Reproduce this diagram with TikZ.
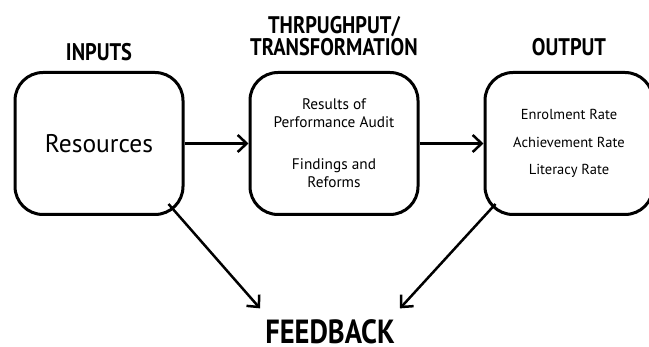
\documentclass[tikz,border=0pt]{standalone}
\usepackage{fontspec}
\setmainfont{PT Sans}
\newfontfamily\headfont{PT Sans}[FakeStretch=0.85]
\usetikzlibrary{positioning,arrows.meta}

\begin{document}
\begin{tikzpicture}[x=1pt, y=-1pt, node distance=64pt,
	box/.style={draw, line width=3pt, rounded corners=28pt, minimum width=168pt, minimum height=142pt, align=center, inner sep=0pt},
	head/.style={font=\headfont\bfseries\fontsize{24}{22}\selectfont, align=center, inner sep=0pt},
	item/.style={font=\fontsize{15.3}{18}\selectfont},
	a/.style={line width=2.5pt, -{Straight Barb[length=9pt,width=17pt]}}]
	\useasboundingbox (0,0) rectangle (649,347);

	\node[box, font=\fontsize{25.5}{30}\selectfont] (R) at (99,143.5) {Resources};
	\node[box, right=of R, item] (T) {Results of\\Performance Audit\\[24pt]Findings and\\Reforms};
	\node[box, right=of T, font=\fontsize{14.5}{27.5}\selectfont] (O) {Enrolment Rate\\Achievement Rate\\Literacy Rate};

	\node[head, above=10pt of R] (R_label) {INPUTS};
	\node[head, above=15pt of T] (T_label) {THRPUGHPUT/\\TRANSFORMATION};
	\node[head, above=15pt of O] (O_label) {OUTPUT};
	\node[head, font=\headfont\bfseries\fontsize{33.5}{32}\selectfont, anchor=base] (F) at (330,343.5) {FEEDBACK};

	\draw[a] (R) -- (T);
	\draw[a] (T) -- (O);
	\draw[a] ([xshift=-16pt, yshift=12pt]R.south east) -- ([xshift=-70pt, yshift=11pt]F.north);
	\draw[a] ([xshift=12pt, yshift=12pt]O.south west) -- ([xshift=70pt, yshift=11pt]F.north);
\end{tikzpicture}
\end{document}
